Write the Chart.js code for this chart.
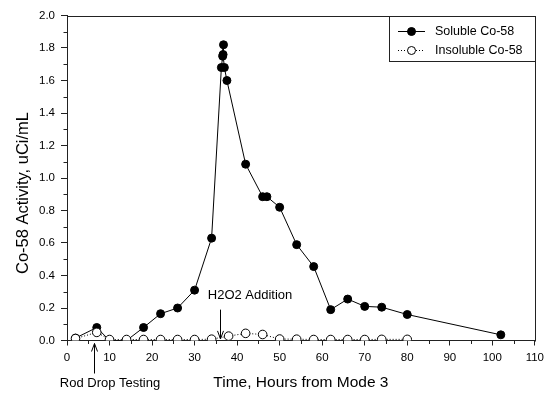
<!DOCTYPE html>
<html>
<head>
<meta charset="utf-8">
<script src="https://cdn.jsdelivr.net/npm/chart.js@4.4.1/dist/chart.umd.min.js"></script>
<style>
  html, body { margin: 0; padding: 0; background: #fff; }
  #wrap { width: 549px; height: 394px; }
</style>
</head>
<body>
<div id="wrap"><canvas id="chart" width="549" height="394"></canvas></div>
<script>
// Valeurs (heures depuis Mode 3, activité en uCi/mL)
const solubleHours = [2, 7, 10, 14, 18, 22, 26, 30, 34, 36.3, 36.6, 36.8, 36.7, 37.0, 37.6, 42, 46, 47, 50, 54, 58, 62, 66, 70, 74, 80, 102];
const solubleActivity = [0.015, 0.08, 0.0, 0.0, 0.08, 0.165, 0.2, 0.31, 0.63, 1.68, 1.75, 1.82, 1.76, 1.68, 1.60, 1.085, 0.885, 0.885, 0.82, 0.59, 0.455, 0.19, 0.255, 0.21, 0.205, 0.16, 0.035];
const insolubleHours = [2, 7, 10, 14, 18, 22, 26, 30, 34, 38, 42, 46, 50, 54, 58, 62, 66, 70, 74, 80];
const insolubleActivity = [0.012, 0.05, 0.006, 0.006, 0.006, 0.006, 0.006, 0.006, 0.008, 0.027, 0.044, 0.037, 0.009, 0.008, 0.006, 0.006, 0.006, 0.006, 0.007, 0.007];

const seriesLabels = ['Soluble Co-58', 'Insoluble Co-58'];
const xTickValues = [0, 10, 20, 30, 40, 50, 60, 70, 80, 90, 100, 110];
const yTickValues = [0, 0.2, 0.4, 0.6, 0.8, 1.0, 1.2, 1.4, 1.6, 1.8, 2.0];
const yTitle = 'Co-58 Activity, uCi/mL';

// Annotations
const rodDropHour = 6.4;
const h2o2Hour = 36;

const FONT = '"Liberation Sans", Arial, sans-serif';

function toPoints(xs, ys) {
    return xs.map((x, i) => ({ x: x, y: ys[i] }));
}

// Cadre, petites graduations, légende et flèches
const extras = {
    id: 'extras',
    afterDraw(chart) {
        const ctx = chart.ctx;
        const area = chart.chartArea;
        const xs = chart.scales.x;
        const ys = chart.scales.y;
        ctx.save();
        ctx.strokeStyle = '#222';
        ctx.lineWidth = 1;

        // cadre haut / droite
        ctx.beginPath();
        ctx.moveTo(Math.round(area.left) + 0.5, Math.round(area.top) + 0.5);
        ctx.lineTo(Math.round(area.right) + 0.5, Math.round(area.top) + 0.5);
        ctx.lineTo(Math.round(area.right) + 0.5, Math.round(area.bottom) + 0.5);
        ctx.stroke();

        // petites graduations
        ctx.beginPath();
        for (let v = 5; v < 110; v += 10) {
            const px = Math.round(xs.getPixelForValue(v)) + 0.5;
            ctx.moveTo(px, area.bottom);
            ctx.lineTo(px, area.bottom + 3.5);
        }
        for (let v = 0.1; v < 2; v += 0.2) {
            const py = Math.round(ys.getPixelForValue(v)) + 0.5;
            ctx.moveTo(area.left - 3.5, py);
            ctx.lineTo(area.left, py);
        }
        ctx.stroke();

        // titre de l'axe Y
        ctx.save();
        ctx.translate(23, 193);
        ctx.rotate(-Math.PI / 2);
        ctx.fillStyle = '#000';
        ctx.font = '16.5px ' + FONT;
        ctx.textAlign = 'center';
        ctx.textBaseline = 'middle';
        ctx.fillText(yTitle, 0, 0);
        ctx.restore();

        // légende
        const lx = 389.5, ly = Math.round(area.top) + 0.5;
        const lr = Math.round(area.right) + 0.5, lb = 61.5;
        ctx.fillStyle = '#fff';
        ctx.fillRect(lx, ly, lr - lx, lb - ly);
        ctx.strokeRect(lx, ly, lr - lx, lb - ly);
        const rows = [31.5, 50.5];
        chart.data.datasets.forEach((ds, i) => {
            const y = rows[i];
            ctx.beginPath();
            ctx.strokeStyle = '#000';
            ctx.setLineDash(ds.borderDash || []);
            ctx.moveTo(398, y);
            ctx.lineTo(425, y);
            ctx.stroke();
            ctx.setLineDash([]);
            ctx.beginPath();
            ctx.arc(411.5, y, 4, 0, Math.PI * 2);
            ctx.fillStyle = ds.pointBackgroundColor;
            ctx.fill();
            ctx.stroke();
            ctx.fillStyle = '#000';
            ctx.font = '12.5px ' + FONT;
            ctx.textAlign = 'left';
            ctx.textBaseline = 'middle';
            ctx.fillText(ds.label, 435, y);
        });

        // flèches et textes
        ctx.strokeStyle = '#000';
        ctx.fillStyle = '#000';
        ctx.font = '13px ' + FONT;
        ctx.textBaseline = 'middle';

        const rx = Math.round(xs.getPixelForValue(rodDropHour)) + 0.5;
        drawArrow(ctx, rx, area.bottom + 33, area.bottom + 3);
        ctx.textAlign = 'center';
        ctx.fillText('Rod Drop Testing', 110, 383);

        const hx = Math.round(xs.getPixelForValue(h2o2Hour)) + 0.5;
        drawArrow(ctx, hx, ys.getPixelForValue(0.19), ys.getPixelForValue(0.01));
        ctx.textAlign = 'left';
        ctx.fillText('H2O2 Addition', xs.getPixelForValue(33.1), ys.getPixelForValue(0.28));
        ctx.restore();
    }
};

function drawArrow(ctx, x, fromY, toY) {
    const dir = toY > fromY ? 1 : -1;
    ctx.beginPath();
    ctx.moveTo(x, fromY);
    ctx.lineTo(x, toY);
    ctx.moveTo(x - 3, toY - dir * 8);
    ctx.lineTo(x, toY);
    ctx.lineTo(x + 3, toY - dir * 8);
    ctx.stroke();
}

const ctx = document.getElementById('chart').getContext('2d');
new Chart(ctx, {
    type: 'scatter',
    data: {
        datasets: [{
            label: seriesLabels[0],
            data: toPoints(solubleHours, solubleActivity),
            showLine: true,
            borderColor: '#000',
            borderWidth: 1,
            pointRadius: 4,
            pointBackgroundColor: '#000',
            pointBorderColor: '#000',
            pointBorderWidth: 1,
            order: 1
        }, {
            label: seriesLabels[1],
            data: toPoints(insolubleHours, insolubleActivity),
            showLine: true,
            borderColor: '#000',
            borderWidth: 1,
            borderDash: [1, 2],
            pointRadius: 4.3,
            pointBackgroundColor: '#fff',
            pointBorderColor: '#000',
            pointBorderWidth: 1,
            order: 0
        }]
    },
    options: {
        responsive: false,
        animation: false,
        devicePixelRatio: 1,
        layout: { padding: { top: 15.5, right: 14, bottom: 0, left: 0 } },
        plugins: {
            legend: { display: false },
            tooltip: { enabled: false }
        },
        scales: {
            x: {
                type: 'linear',
                min: 0,
                max: 110,
                afterFit: s => { s.height = 53.5; },
                afterBuildTicks: s => { s.ticks = xTickValues.map(v => ({ value: v })); },
                ticks: { color: '#000', font: { family: FONT, size: 11.5 }, padding: 5, maxRotation: 0, autoSkip: false },
                grid: { drawOnChartArea: false, tickLength: 5, color: '#222' },
                border: { color: '#222' },
                title: { display: true, text: 'Time, Hours from Mode 3', color: '#000', font: { family: FONT, size: 15.5 }, padding: { top: 0, bottom: 2 } }
            },
            y: {
                min: 0,
                max: 2,
                afterFit: s => { s.width = 67; },
                afterBuildTicks: s => { s.ticks = yTickValues.map(v => ({ value: v })); },
                ticks: { color: '#000', font: { family: FONT, size: 11.5 }, padding: 6, callback: v => v.toFixed(1) },
                grid: { drawOnChartArea: false, tickLength: 6, color: '#222' },
                border: { color: '#222' },
                title: { display: false }
            }
        }
    },
    plugins: [extras]
});
</script>
</body>
</html>
